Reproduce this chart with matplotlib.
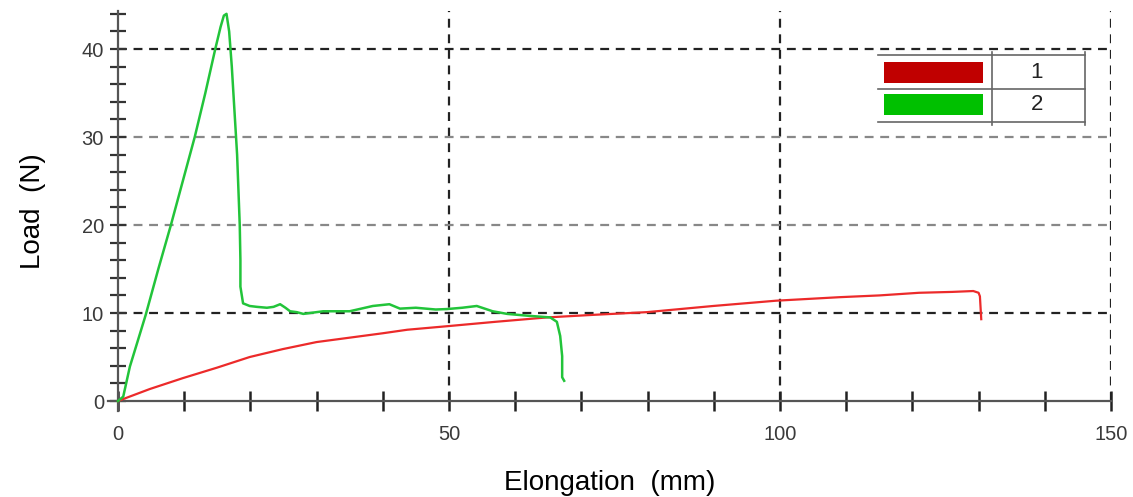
import numpy as np
import matplotlib
matplotlib.use('Agg')
import matplotlib.pyplot as plt
from matplotlib.patches import Rectangle

# sample 1 (red) - elongation (mm) / load (N)
x1 = [0, 4.8, 9.8, 15, 19.9, 24.9, 30, 35, 40, 43.7, 49.7, 57, 64.8, 72,
      79.9, 89.9, 99.4, 109, 115, 121, 126, 129.2, 130.0, 130.2, 130.4]
y1 = [0, 1.36, 2.6, 3.8, 5.0, 5.9, 6.7, 7.2, 7.7, 8.1, 8.5, 9.0, 9.5, 9.8,
      10.1, 10.8, 11.4, 11.8, 12.0, 12.3, 12.4, 12.5, 12.3, 11.9, 9.3]

# sample 2 (green)
x2 = [0, 0.8, 1.8, 2.9, 4.2, 6.1, 8.0, 9.8, 11.6, 13.2, 14.7, 15.5, 16.0,
      16.4, 16.8, 17.2, 17.6, 18.0, 18.2, 18.4, 18.5, 18.5, 18.9, 19.9,
      21, 22.5, 23.5, 24.5, 25.3, 26, 27, 28, 31, 35, 38.5, 41, 42.6,
      45, 48, 49.7, 52, 54.2, 56.6, 58.8, 61.8, 65.3, 66.3, 66.8, 67.1,
      67.1, 67.4]
y2 = [0, 0.5, 3.9, 6.6, 9.8, 15, 20, 25, 30, 35, 40, 42.5, 43.8,
      44.0, 42, 38, 33, 28, 24, 20, 16, 13, 11.1, 10.8,
      10.7, 10.6, 10.7, 11.0, 10.6, 10.2, 10.1, 9.9, 10.2, 10.2, 10.8, 11.0, 10.5,
      10.6, 10.4, 10.45, 10.6, 10.8, 10.2, 9.9, 9.7, 9.5, 9.0, 7.4, 5.1,
      2.7, 2.3]

labels = ['1', '2']
line_colors = ['#ec2a2a', '#22c43a']
legend_colors = ['#c00000', '#00c000']

plt.rcParams['font.family'] = ['Liberation Sans', 'DejaVu Sans']

fig = plt.figure(figsize=(11.33, 4.97), dpi=100)
W, H = 1133, 497
# axes placed so that data (0,0) sits at pixel (118, 401)
ax = fig.add_axes([108 / W, 1 - 410.7 / H, 1003 / W, 399.5 / H])
ax.set_xlim(-1.5, 150)
ax.set_ylim(-1.1, 44.3)

# grid lines
for gx in [50, 100, 150]:
    ax.plot([gx, gx], [0, 44.3], color='#222222', lw=1.6, ls=(0, (4, 3)), zorder=1)
for gy, c in [(10, '#222222'), (20, '#888888'), (30, '#888888'), (40, '#222222')]:
    ax.plot([0, 150], [gy, gy], color=c, lw=1.6, ls=(0, (4, 3)), zorder=1)

ax.plot(x1, y1, color=line_colors[0], lw=1.6, zorder=3)
ax.plot(x2, y2, color=line_colors[1], lw=1.8, zorder=3)

for s in ['top', 'right']:
    ax.spines[s].set_visible(False)
ax.spines['left'].set_position(('data', 0))
ax.spines['bottom'].set_position(('data', 0))
for s in ['left', 'bottom']:
    ax.spines[s].set_color('#555555')
    ax.spines[s].set_linewidth(1.6)

ax.set_xticks([0, 50, 100, 150])
ax.set_xticks(np.arange(0, 151, 10), minor=True)
ax.set_yticks([0, 10, 20, 30, 40])
ax.set_yticks(np.arange(0, 45, 2), minor=True)
ax.tick_params(axis='x', which='both', direction='inout', length=14, width=1.8,
               color='#222222', labelsize=14.5, labelcolor='#3a3a3a')
ax.tick_params(axis='y', which='both', direction='inout', length=12, width=1.6,
               color='#333333', labelsize=14.5, labelcolor='#3a3a3a', pad=4)
ax.tick_params(axis='x', which='major', pad=10)

ax.set_xlabel('Elongation  (mm)', fontsize=20, labelpad=19, color='black')
ax.set_ylabel('Load  (N)', fontsize=20, labelpad=26, color='black')
ax.patch.set_alpha(0)

# legend table
lax = fig.add_axes([878 / W, 1 - 122 / H, 207 / W, 67 / H])
lax.set_xlim(878, 1085)
lax.set_ylim(122, 55)
lax.axis('off')
for yy in [55, 88.5, 122]:
    lax.plot([878, 1085], [yy, yy], color='#666666', lw=1.2, clip_on=False)
for xx in [992, 1085]:
    lax.plot([xx, xx], [52, 125], color='#666666', lw=1.2, clip_on=False)
for i, (lab, col) in enumerate(zip(labels, legend_colors)):
    top = 62 + i * 32
    lax.add_patch(Rectangle((884, top), 99, 21, facecolor=col, edgecolor='none'))
    lax.text(1037, top + 10.5, lab, fontsize=16, ha='center', va='center', color='#222222')

fig.savefig('out.png', dpi=100)
